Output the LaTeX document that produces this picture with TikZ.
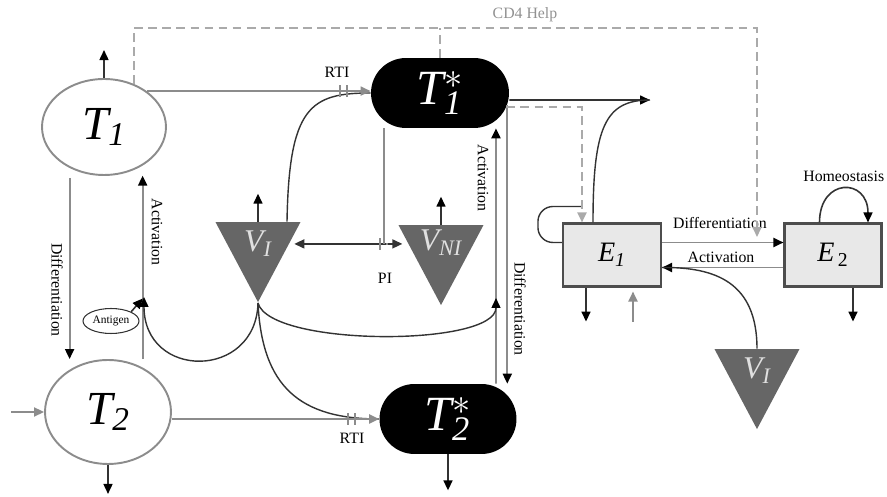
\documentclass[tikz,border=0pt]{standalone}
\usepackage{fontspec}
\setmainfont{Liberation Serif}
\usetikzlibrary{arrows.meta,shapes.geometric,shapes.misc,calc,decorations.markings}
\definecolor{linegray}{HTML}{8C8C8C}
\definecolor{helpgray}{HTML}{AAAAAA}
\definecolor{trigray}{HTML}{666666}
\definecolor{boxfill}{HTML}{E8E8E8}
\definecolor{boxline}{HTML}{4D4D4D}
\definecolor{curvegray}{HTML}{333333}

\begin{document}
\begin{tikzpicture}[
      x=0.02cm, y=0.02cm,
      cell/.style={ellipse, draw=linegray, line width=1.1pt, inner sep=0pt, font=\fontsize{27}{27}\selectfont},
      active/.style={rounded rectangle, fill=black, text=white, inner sep=0pt,
        minimum width=2.76cm, minimum height=1.4cm, font=\fontsize{28}{28}\selectfont},
      virion/.style={isosceles triangle, isosceles triangle stretches, shape border rotate=270,
        fill=trigray, inner sep=0pt, minimum width=1.7cm, minimum height=1.6cm,
        text=white!88!black, font=\fontsize{18}{18}\selectfont},
      effector/.style={rectangle, draw=boxline, fill=boxfill, line width=1.2pt,
        minimum width=1.96cm, minimum height=1.26cm, font=\fontsize{16}{16}\selectfont},
      lbl/.style={font=\fontsize{9}{9}\selectfont},
      gline/.style={draw=linegray, line width=1.1pt},
      flow/.style={gline, -{Triangle[length=2mm, width=1.8mm, color=black]}},
      feed/.style={gline, -{Triangle[length=2mm, width=1.8mm, color=linegray]}},
      outflow/.style={draw=curvegray, line width=0.9pt, -{Triangle[length=2mm, width=1.8mm, color=black]}},
      infl/.style={draw=curvegray, line width=0.8pt},
      dbl/.style={draw=curvegray, line width=0.9pt,
        {Triangle[length=2mm, width=1.8mm]}-{Triangle[length=2mm, width=1.8mm]}},
      helpline/.style={draw=helpgray, line width=1.1pt, dash pattern=on 5pt off 3pt},
      help/.style={helpline, -{Triangle[length=2mm, width=1.8mm, color=helpgray]}},
      rti/.style={decoration={markings, mark=at position #1 with
        {\draw[-, linegray, line width=1pt] (-0.7mm,-1.2mm) -- (-0.7mm,1.2mm) (0.7mm,-1.2mm) -- (0.7mm,1.2mm);}},
        postaction={decorate}},
    ]
    \useasboundingbox (0,0) rectangle (887,497);

    % CD4 cells, resting and infected
    \node[cell, minimum width=2.48cm, minimum height=1.92cm] (t1) at (104,370) {$\mathit{T}_{\mathit{1}}$};
    \node[cell, minimum width=2.52cm, minimum height=2.08cm] (t2) at (108,85) {$\mathit{T}_{\mathit{2}}$};
    \node[active] (t1s) at (440,404) {$\mathit{T}_{\mathit{1}}^{\ast}$};
    \node[active, minimum width=2.74cm] (t2s) at (448,78) {$\mathit{T}_{\mathit{2}}^{\ast}$};
    \node[ellipse, draw=curvegray, line width=0.6pt, inner sep=0pt, minimum width=1.12cm,
      minimum height=0.5cm, font=\fontsize{6.5}{6.5}\selectfont] (antigen) at (111,176) {Antigen};

    % Virions
    \node[virion, anchor=apex] (vi) at (258,194) {$\mathit{V}_{\mathit{I}}$};
    \node[virion, anchor=apex] (vni) at (441,191) {$\mathit{V}_{\mathit{NI}}$};
    \node[virion, anchor=apex] (vi2) at (757,67) {$\mathit{V}_{\mathit{I}}$};

    % CD8 effectors
    \node[effector] (e1) at (612,242) {$\mathit{E}_{\mathit{1}}$};
    \node[effector, minimum width=1.94cm] (e2) at (833,242) {$\mathit{E}_{\,\mathrm{2}}$};

    % Labels
    \node[lbl, text=helpgray!85!black] (cdhelp) at (525,482) {CD4 Help};
    \node[lbl] (rtiA) at (337,425) {RTI};
    \node[lbl] (rtiB) at (352,59) {RTI};
    \node[lbl] (pi) at (385,219) {PI};
    \node[lbl, rotate=-90] (diffA) at (57,207) {Differentiation};
    \node[lbl, rotate=-90] (actA) at (157,265) {Activation};
    \node[lbl, rotate=-90] (actB) at (483,319) {Activation};
    \node[lbl, rotate=-90] (diffB) at (520,188) {Differentiation};
    \node[lbl] (diffE) at (720,274) {Differentiation};
    \node[lbl] (actE) at (721,240) {Activation};

    \coordinate (actjoin) at (144,200);
    \coordinate (actjoin2) at (496,199);
    \coordinate (t1out) at (650,397);
    \coordinate (helpcorner) at (757,469);
    \coordinate (helpend) at (757,260);

    % Outflow
    \draw[outflow] (t1.north) -- ++(0,28);
    \draw[outflow] (t2.south) -- ++(0,-29);
    \draw[outflow] (t2s.south) -- ++(0,-36);
    \foreach \vir in {vi, vni}
      \draw[outflow] (\vir.north) -- ++(0,28);

    % Supply, differentiation and activation of T cells
    \draw[feed] ([xshift=-0.66cm]t2.west) -- (t2.west);
    \draw[flow, shorten <=2mm] (t1.230) -- (t1.230 |- t2.north);
    \draw[flow, shorten >=2mm] (t1.315 |- t2.north) -- (t1.315);
    \draw[outflow, shorten >=0.4mm] (antigen.north east) -- (actjoin);
    \draw[flow] ([xshift=0.96cm]t2s.north) -- ([xshift=1.12cm]t1s.south);
    \draw[flow] (t1s.-10) -- (t1s.-10 |- t2s.north);

    % Infection by V_I
    \draw[infl, -{Triangle[length=2mm, width=1.8mm, color=black]}] (vi.apex)
      .. controls (256,117) and (144,117) .. (actjoin);
    \draw[infl, -{Triangle[length=2mm, width=1.8mm, color=black]}] (vi.apex)
      .. controls (270,150) and (496,150) .. (actjoin2);
    \draw[infl] (vi.apex) .. controls (262,110) and (300,78) .. (t2s.west);
    \draw[infl] ($(vi.north)+(29,0)$) .. controls (289,390) and (310,404) .. (t1s.west);
    \draw[feed, rti=-5.4mm] (t1.40) -- (t1.40 -| t1s.west);
    \draw[feed, rti=-5.6mm] (t2s.west -| t2.east) -- (t2s.west);

    % Protease inhibitor
    \path (vi.0) -- (vi.0 -| vni.180) coordinate[pos=0.8] (pimark);
    \draw[dbl, rti=0.8, shorten <=1mm, shorten >=1mm] (vi.0) -- (vi.0 -| vni.180);
    \draw[gline] (pimark |- t1s.south) -- (pimark);

    % CD4 help
    \draw[help] (t1.55) |- (helpcorner) -- (helpend);
    \draw[helpline] (t1s.north) -- (t1s.north |- helpcorner);
    \draw[help] (t1s.-12) -| ([xshift=-0.6cm]e1.north);

    % Effector dynamics
    \draw[outflow] ([yshift=-1.4mm]t1s.east) -- (t1out);
    \draw[infl] ([xshift=-0.38cm]e1.north) .. controls (593,370) and (605,397) .. (t1out);
    \draw[infl, rounded corners=0.3cm] ([yshift=0.25cm]e1.west) -- ++(-24,0) -- ++(0,36) -- ++(43,0);
    \draw[flow] ([yshift=0.25cm]e1.east) -- ([yshift=0.25cm]e2.west);
    \draw[flow] ([yshift=-0.25cm]e2.west) -- ([yshift=-0.25cm]e1.east);
    \draw[infl] (vi2.north) .. controls (757,215) and (715,230) .. ([yshift=-0.25cm]e1.east);
    \draw[outflow] ([xshift=-0.52cm]e1.south) -- ++(0,-34);
    \draw[feed] ([xshift=0.42cm, yshift=-0.68cm]e1.south) -- ([xshift=0.42cm, yshift=-0.08cm]e1.south);
    \draw[outflow] ([xshift=0.4cm]e2.south) -- ++(0,-34);
    \draw[outflow] ([xshift=-0.27cm]e2.north) .. controls +(0,45) and +(0,45)
      .. node[lbl, above] (homeo) {Homeostasis} ([xshift=0.7cm]e2.north);
  \end{tikzpicture}
\end{document}
